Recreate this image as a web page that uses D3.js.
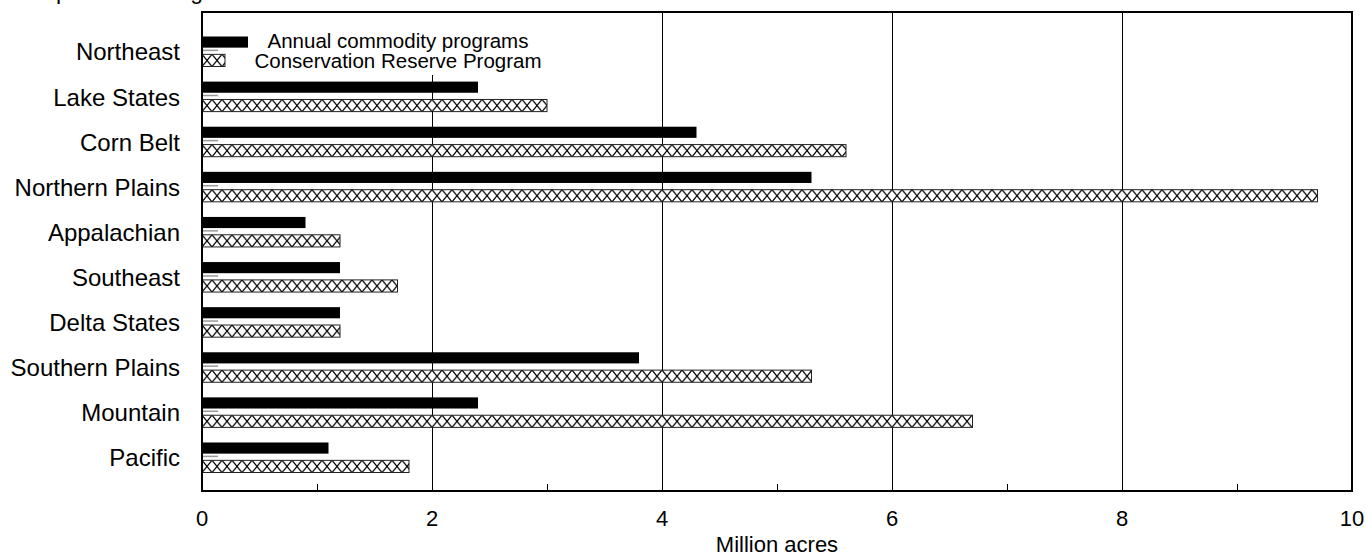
<!DOCTYPE html>
<html><head><meta charset="utf-8">
<script src="https://cdn.jsdelivr.net/npm/d3@7"></script>
<style>
html,body{margin:0;padding:0;background:#fff;}
svg{display:block;font-family:Arial,"Liberation Sans",sans-serif;}
</style></head>
<body><svg id="chart" width="1366" height="557"></svg>
<script>
const regions = ["Northeast","Lake States","Corn Belt","Northern Plains","Appalachian","Southeast","Delta States","Southern Plains","Mountain","Pacific"];
const annualCommodity = [0.4,2.4,4.3,5.3,0.9,1.2,1.2,3.8,2.4,1.1];
const conservationReserve = [0.2,3.0,5.6,9.7,1.2,1.7,1.2,5.3,6.7,1.8];
const seriesNames = ["Annual commodity programs","Conservation Reserve Program"];
const xTicks = [0,2,4,6,8,10];
const minorTicks = [1,3,5,7,9];
const gridValues = [2,4,6,8];
const axisTitle = "Million acres";
const topTitle = "Farm production region";

const svg = d3.select("#chart");
const frame = {left:202, right:1352, top:12, bottom:491};
const x = d3.scaleLinear().domain([0,10]).range([frame.left, frame.right]);
const y = d3.scaleBand().domain(regions).range([29.5, 480.6]).paddingInner(0).paddingOuter(0);
const inner = d3.scaleBand().domain(["a","c"]).range([7, 37]).paddingInner(0.32);

// title (cut off at top)
svg.append("text").attr("x",-4).attr("y",-1).attr("font-size",23).attr("fill","#000").text(topTitle);

// gridlines
svg.append("g").selectAll("line").data(gridValues).join("line")
  .attr("x1",d=>x(d)+0.5).attr("x2",d=>x(d)+0.5).attr("y1",frame.top).attr("y2",frame.bottom)
  .attr("stroke","#000").attr("stroke-width",1);

// minor ticks
svg.append("g").selectAll("line").data(minorTicks).join("line")
  .attr("x1",d=>x(d)+0.5).attr("x2",d=>x(d)+0.5).attr("y1",frame.bottom-7).attr("y2",frame.bottom)
  .attr("stroke","#000").attr("stroke-width",1);

// patterns per bar
const defs = svg.append("defs");
regions.forEach((r,i)=>{
  const by = y(r)+inner("c"), bh = inner.bandwidth();
  const p = defs.append("pattern").attr("id","hatch"+i).attr("patternUnits","userSpaceOnUse")
    .attr("x",x(0)).attr("y",by).attr("width",10).attr("height",bh);
  p.append("rect").attr("width",10).attr("height",bh).attr("fill","#fff");
  p.append("path").attr("d",`M0,0L10,${bh}M0,${bh}L10,0`)
    .attr("stroke","#000").attr("stroke-width",1.3).attr("fill","none");
});

// legend background + text
svg.append("rect").attr("x",252).attr("y",frame.top+1).attr("width",300).attr("height",62).attr("fill","#fff");
const lg = svg.append("g").attr("font-size",20.5).attr("text-anchor","middle").attr("fill","#000");
lg.append("text").attr("x",398).attr("y",48).text(seriesNames[0]);
lg.append("text").attr("x",398).attr("y",68).text(seriesNames[1]);

// bars
const g = svg.append("g");
g.selectAll("rect.a").data(regions).join("rect").attr("class","a")
  .attr("x",x(0)).attr("y",d=>y(d)+inner("a"))
  .attr("width",(d,i)=>x(annualCommodity[i])-x(0)).attr("height",inner.bandwidth()-1)
  .attr("fill","#000");
g.selectAll("rect.gr").data(regions).join("rect").attr("class","gr")
  .attr("x",x(0)).attr("y",d=>y(d)+inner("a")+inner.bandwidth()+1)
  .attr("width",x(0.14)-x(0)).attr("height",1.5).attr("fill","#999");
g.selectAll("rect.c").data(regions).join("rect").attr("class","c")
  .attr("x",x(0)).attr("y",d=>y(d)+inner("c"))
  .attr("width",(d,i)=>x(conservationReserve[i])-x(0)).attr("height",inner.bandwidth())
  .attr("fill",(d,i)=>`url(#hatch${i})`).attr("stroke","#222").attr("stroke-width",1);

// frame
svg.append("rect").attr("x",frame.left).attr("y",frame.top).attr("width",frame.right-frame.left)
  .attr("height",frame.bottom-frame.top).attr("fill","none").attr("stroke","#000").attr("stroke-width",2);

// category labels
svg.append("g").attr("font-size",24).attr("text-anchor","end").attr("fill","#000")
  .selectAll("text").data(regions).join("text")
  .attr("x",180).attr("y",d=>y(d)+y.bandwidth()/2).attr("dy","0.35em").text(d=>d);

// x tick labels
svg.append("g").attr("font-size",22).attr("text-anchor","middle").attr("fill","#000")
  .selectAll("text").data(xTicks).join("text")
  .attr("x",d=>x(d)).attr("y",526).text(d=>d);

svg.append("text").attr("x",777).attr("y",552).attr("font-size",22).attr("text-anchor","middle").text(axisTitle);
</script></body></html>
